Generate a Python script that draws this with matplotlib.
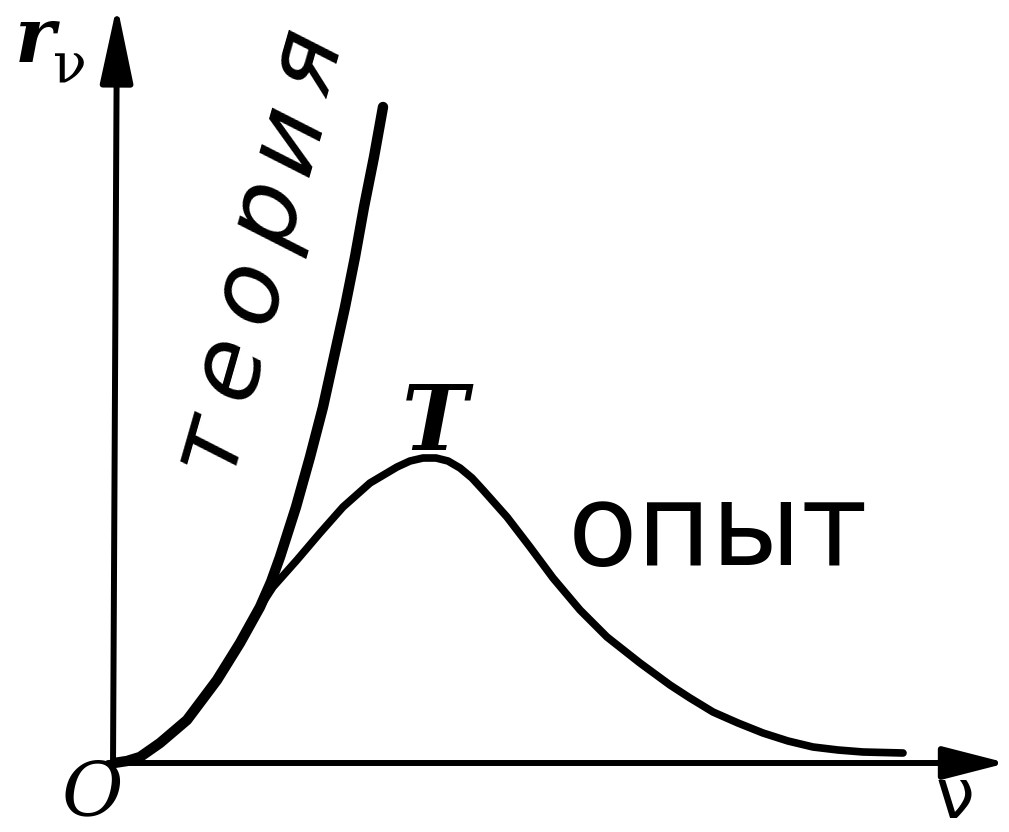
import numpy as np
import matplotlib.pyplot as plt

# common part of both curves near the origin
nu_start = [0.0, 0.13, 0.26, 0.46, 0.73, 1.03, 1.26, 1.46]
r_start = [0.0, 0.02, 0.06, 0.20, 0.43, 0.83, 1.20, 1.56]

# theory (Rayleigh-Jeans) branch
nu_theory = nu_start + [1.57, 1.66, 1.82, 1.96, 2.09, 2.20, 2.31, 2.41, 2.50, 2.60, 2.69]
r_theory = r_start + [1.81, 2.06, 2.56, 3.06, 3.56, 4.06, 4.56, 5.06, 5.56, 6.06, 6.56]

# experiment branch
nu_exp = nu_start + [1.59, 1.83, 2.06, 2.29, 2.56, 2.83, 2.96, 3.09, 3.22, 3.34, 3.46,
                     3.58, 3.69, 3.93, 4.16, 4.39, 4.66, 4.93, 5.26, 5.56, 5.76, 5.99,
                     6.24, 6.49, 6.74, 6.99, 7.24, 7.49, 7.89]
r_exp = r_start + [1.76, 2.03, 2.30, 2.56, 2.80, 2.96, 3.02, 3.05, 3.05, 3.02, 2.95,
                   2.85, 2.73, 2.46, 2.16, 1.85, 1.53, 1.26, 1.00, 0.78, 0.65, 0.51,
                   0.40, 0.30, 0.22, 0.16, 0.13, 0.11, 0.10]

fig = plt.figure(figsize=(10.09, 8.32), dpi=100)
ax = fig.add_axes([0, 0, 1, 1])
ax.set_xlim(-1.14, 8.95)
ax.set_ylim(-0.69, 7.63)
ax.axis("off")

# axes with arrows
arrow = dict(arrowstyle="-|>,head_length=4.7,head_width=1.0", lw=4.3, color="k",
             shrinkA=0, shrinkB=0, mutation_scale=10)
ax.annotate("", xy=(0.03, 7.58), xytext=(-0.01, -0.03), arrowprops=arrow)
arrow_x = dict(arrow, arrowstyle="-|>,head_length=3.9,head_width=1.0")
ax.annotate("", xy=(8.93, 0.0), xytext=(-0.06, 0.0), arrowprops=arrow_x)

ax.plot(nu_theory, r_theory, color="k", lw=7.5, solid_capstyle="round", solid_joinstyle="round")
ax.plot(nu_exp, r_exp, color="k", lw=5.5, solid_capstyle="round", solid_joinstyle="round")

# labels
ax.text(-0.99, 7.01, "r", fontsize=55, family="DejaVu Serif", style="italic",
        fontweight="bold", ha="left", va="baseline")
ax.text(-0.61, 6.81, "ν", fontsize=40, family="DejaVu Serif", ha="left", va="baseline")
ax.text(-0.22, -0.52, "O", fontsize=54, family="DejaVu Serif", style="italic",
        ha="center", va="baseline")
ax.text(8.41, -0.685, "ν", fontsize=50, family="DejaVu Sans", ha="center", va="bottom")
ax.text(3.21, 3.13, "T", fontsize=64, family="DejaVu Serif", style="italic",
        fontweight="bold", ha="center", va="baseline")
ax.text(6.04, 1.98, "опыт", fontsize=82, family="DejaVu Sans", ha="center", va="baseline")

# handwritten-like label along the theory curve, letter by letter
word = "теория"
xs = np.linspace(0.95, 1.95, len(word))
ys = np.linspace(3.20, 7.00, len(word))
for ch, x, y in zip(word, xs, ys):
    ax.text(x, y, ch, fontsize=72, family="DejaVu Sans", style="italic", rotation=74,
            ha="center", va="center", rotation_mode="anchor")

plt.savefig("out.png", dpi=100)
